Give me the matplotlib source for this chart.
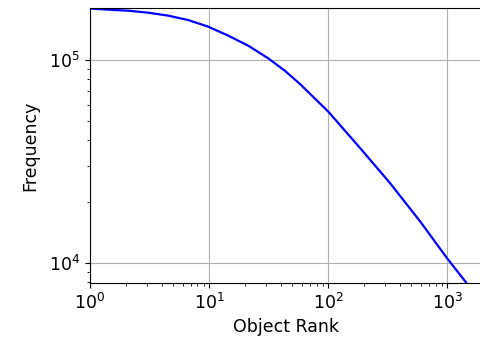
import numpy as np
import matplotlib.pyplot as plt

# values
rank = [1, 1.417, 2.087, 3.074, 4.53, 6.67, 9.83, 14.48, 21.3, 31.4, 43.4, 58.4,
        101, 186.7, 333, 596, 1000, 1426, 1600]
freq = [178600, 176300, 174300, 170400, 164800, 156800, 145500, 131400, 117300, 101600,
        88200, 75700, 55300, 36600, 24600, 15930, 10520, 8070, 7400]

fig = plt.figure(figsize=(4.81, 3.39), dpi=100)
ax = fig.add_axes([0.187, 0.165, 0.817, 0.811])
ax.plot(rank, freq, color='blue', linewidth=1.6)
ax.set_xscale('log')
ax.set_yscale('log')
ax.set_xlim(1, 2000)
ax.set_ylim(7940, 179400)
ax.grid(which='major', color='#b0b0b0', linewidth=0.8)
ax.set_xlabel('Object Rank', fontsize=12.5)
ax.set_ylabel('Frequency', fontsize=12.5, labelpad=7)
ax.tick_params(labelsize=12.5)
fig.savefig('out.png', dpi=100)
